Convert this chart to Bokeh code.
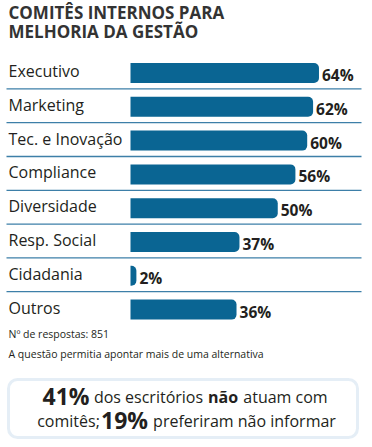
from bokeh.plotting import figure
from bokeh.models import Range1d, BoxAnnotation
from bokeh.core.properties import value
from bokeh.embed import file_html
from bokeh.resources import INLINE

# ---- data ----
categories = ["Executivo", "Marketing", "Tec. e Inovação", "Compliance",
              "Diversidade", "Resp. Social", "Cidadania", "Outros"]
values = [64, 62, 60, 56, 50, 37, 2, 36]
title_lines = ["COMITÊS INTERNOS PARA", "MELHORIA DA GESTÃO"]
notes = ["Nº de respostas: 851", "A questão permitia apontar mais de uma alternativa"]

# ---- layout constants ----
W, H = 372, 447
PX_PER_PCT = 2.945
BAR_LEFT_PX = 130
PITCH = 33.8
ROW0_PX = 72.5
X_START = -BAR_LEFT_PX / PX_PER_PCT
X_END = (W - BAR_LEFT_PX) / PX_PER_PCT
Y_TOP = -ROW0_PX / PITCH
Y_BOTTOM = (H - ROW0_PX) / PITCH

BAR_COLOR = "#0a6593"
SEP_COLOR = "#3d7fa8"
BOX_COLOR = "#a9c6e0"
TEXT_COLOR = "#231f20"
FONT = value("Open Sans")


def fx(img_x):
    return (img_x - BAR_LEFT_PX) / PX_PER_PCT


def fy(img_y):
    return (img_y - ROW0_PX) / PITCH


p = figure(width=W, height=H, output_backend="svg", toolbar_location=None,
           x_range=Range1d(X_START, X_END), y_range=Range1d(Y_BOTTOM, Y_TOP),
           min_border=0, outline_line_color=None)
p.axis.visible = False
p.grid.visible = False
p.background_fill_color = "white"

idx = list(range(len(categories)))

# separators
sep_y = [i + 0.47 for i in idx[:-1]]
p.segment(x0=[fx(6)] * len(sep_y), x1=[fx(361)] * len(sep_y), y0=sep_y, y1=sep_y,
          line_color=SEP_COLOR, line_width=1.3)

# bars
p.hbar(y=idx, left=0, right=values, height=20 / PITCH, fill_color=BAR_COLOR,
       line_color=None, border_radius=(0, 5, 5, 0))

# category labels
p.text(x=[fx(8)] * len(categories), y=idx, text=categories, text_font=FONT,
       text_font_size=value("16px"), text_color=TEXT_COLOR,
       text_baseline="middle", text_align="left", y_offset=-2)

# value labels
p.text(x=values, y=idx, text=[f"{v}%" for v in values], text_font=FONT,
       text_font_size=value("15.5px"), text_font_style="bold", text_color=TEXT_COLOR,
       text_baseline="middle", text_align="left", x_offset=3, y_offset=2)

# title
p.text(x=[fx(8)] * 2, y=[fy(11.5), fy(30.5)], text=title_lines, text_font=FONT,
       text_font_size=value("17px"), text_font_style="bold", text_color="#333333",
       text_baseline="middle", text_align="left")

# notes
p.text(x=[fx(8)] * 2, y=[fy(333.5), fy(353)], text=notes, text_font=FONT,
       text_font_size=value("10.5px"), text_color=TEXT_COLOR,
       text_baseline="middle", text_align="left")

# callout box
p.add_layout(BoxAnnotation(left=fx(8), right=fx(357), top=fy(379), bottom=fy(437),
                           fill_color="white", fill_alpha=0, line_color=BOX_COLOR,
                           line_width=3, border_radius=9))

runs = [
    ("41%", "bold", "23px", 65.5, 395),
    ("dos escritórios", "normal", "16px", 148, 396),
    ("não", "bold", "16px", 222.5, 396),
    ("atuam com", "normal", "16px", 285, 396),
    ("comitês;", "normal", "16px", 68, 420),
    ("19%", "bold", "23px", 124, 419),
    ("preferiram não informar", "normal", "16px", 244, 420),
]
for txt, style, size, cx, iy in runs:
    p.text(x=[fx(cx)], y=[fy(iy)], text=[txt], text_font=FONT,
           text_font_size=value(size), text_font_style=style, text_color=TEXT_COLOR,
           text_baseline="middle", text_align="center")

open("out.html", "w").write(file_html(p, INLINE))
